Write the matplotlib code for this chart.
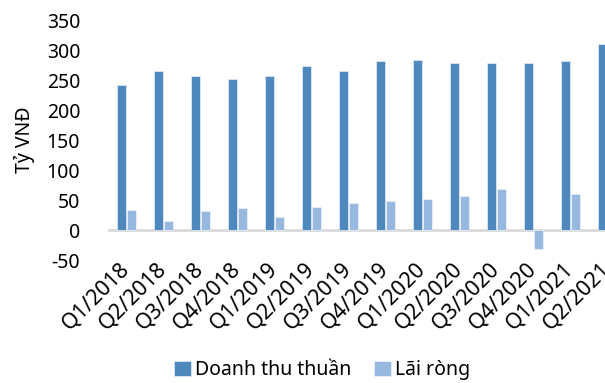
import numpy as np
import matplotlib
matplotlib.use("Agg")
from matplotlib import pyplot as plt

plt.rcParams['font.family'] = ['Noto Sans', 'DejaVu Sans']

quarters = ["Q1/2018", "Q2/2018", "Q3/2018", "Q4/2018",
            "Q1/2019", "Q2/2019", "Q3/2019", "Q4/2019",
            "Q1/2020", "Q2/2020", "Q3/2020", "Q4/2020",
            "Q1/2021", "Q2/2021"]
doanh_thu = [242, 265, 257, 251, 257, 273, 265, 281, 283, 278, 278, 279, 282, 310]
lai_rong = [33, 15, 32, 36, 21, 38, 45, 48, 52, 57, 69, -31, 60, 62]
yticks = [-50, 0, 50, 100, 150, 200, 250, 300, 350]

c_dt = "#4F88BD"
c_lr = "#97B9E0"

fig = plt.figure(figsize=(6.05, 3.83), dpi=100)
# plot area runs past the right edge, the last category is cut off
ax = fig.add_axes([108/605, 1 - 260/383, 518/605, 240/383])

x = np.arange(len(quarters))
w = 0.23
ax.bar(x - 0.14, doanh_thu, w, color=c_dt, edgecolor="#DCE6F2", linewidth=0.6,
       label="Doanh thu thuần", zorder=3)
ax.bar(x + 0.14, lai_rong, w, color=c_lr, edgecolor="#E8EFF8", linewidth=0.6,
       label="Lãi ròng", zorder=3)
ax.axhline(0, color="#D9D9D9", lw=2, zorder=2)

ax.set_xlim(-0.5, len(quarters) - 0.5)
ax.set_ylim(-50, 350)
ax.set_yticks(yticks)
ax.set_yticklabels([str(v) for v in yticks], fontsize=14)
ax.tick_params(axis="y", length=0, pad=20)
ax.tick_params(axis="x", length=0, pad=4)
for s in ax.spines.values():
    s.set_visible(False)

ax.set_xticks(x)
ax.set_xticklabels(quarters, fontsize=15.5, rotation=45, ha="right",
                   va="center", rotation_mode="anchor")

ax.set_ylabel("Tỷ VNĐ", fontsize=14, labelpad=8)

fig.legend(loc="center", bbox_to_anchor=(322/605, 1 - 370/383), ncol=2,
           frameon=False, fontsize=14, handlelength=0.85, handleheight=0.85,
           handletextpad=0.2, columnspacing=1.2)

fig.savefig("out.png", dpi=100)
